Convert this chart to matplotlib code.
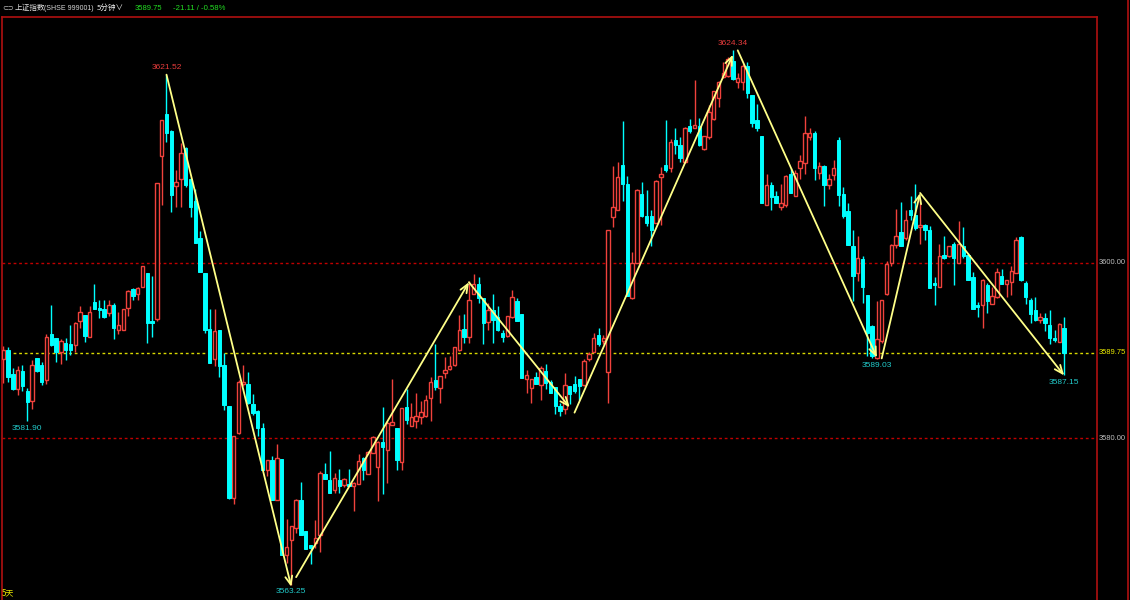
import numpy as np
import matplotlib
matplotlib.use('Agg')
import matplotlib.pyplot as plt
from matplotlib.lines import Line2D
from matplotlib import font_manager

# 5-minute bars
opens = [3589.0, 3590.1, 3587.3, 3585.6, 3587.7, 3585.4, 3584.2, 3589.1, 3588.3, 3586.6,
         3591.9, 3591.4, 3589.8, 3590.9, 3590.8, 3590.6, 3593.4, 3594.1, 3591.6, 3595.5,
         3594.9, 3594.8, 3594.3, 3595.2, 3592.3, 3592.4, 3594.9, 3597.0, 3596.5, 3597.2,
         3598.8, 3593.4, 3593.6, 3612.2, 3617.0, 3615.1, 3608.8, 3609.6, 3613.1, 3609.6,
         3607.1, 3602.9, 3598.8, 3592.5, 3589.0, 3592.3, 3588.3, 3583.7, 3573.1, 3580.6,
         3586.2, 3586.2, 3583.9, 3583.1, 3581.2, 3576.3, 3577.5, 3572.9, 3577.6, 3566.6,
         3568.4, 3569.7, 3572.9, 3569.4, 3567.8, 3568.0, 3568.9, 3575.9, 3575.2, 3574.1,
         3575.2, 3574.6, 3574.8, 3574.5, 3574.7, 3577.7, 3575.9, 3578.3, 3576.7, 3579.5,
         3578.6, 3581.5, 3581.1, 3577.3, 3583.5, 3581.4, 3582.0, 3582.4, 3582.5, 3584.6,
         3586.6, 3585.7, 3587.4, 3587.9, 3588.3, 3590.1, 3592.5, 3591.5, 3596.5, 3597.6,
         3596.0, 3593.3, 3594.6, 3593.8, 3592.0, 3591.7, 3593.8, 3595.6, 3594.2, 3586.7,
         3585.7, 3587.0, 3586.1, 3587.7, 3586.4, 3585.8, 3583.7, 3583.3, 3585.9, 3586.2,
         3586.7, 3586.1, 3589.0, 3589.8, 3591.8, 3591.1, 3587.5, 3605.3, 3606.0, 3611.2,
         3609.0, 3596.0, 3600.0, 3607.9, 3605.4, 3605.4, 3604.6, 3609.8, 3611.2, 3610.8,
         3614.1, 3613.5, 3611.5, 3615.7, 3615.4, 3615.7, 3613.0, 3614.4, 3616.4, 3618.8,
         3621.3, 3621.4, 3623.1, 3620.7, 3620.7, 3622.5, 3619.2, 3616.3, 3614.5, 3606.6,
         3608.9, 3607.7, 3606.4, 3606.6, 3610.2, 3607.7, 3610.8, 3611.4, 3614.4, 3614.8,
         3610.3, 3611.1, 3608.9, 3610.1, 3614.1, 3607.9, 3605.9, 3601.9, 3598.9, 3600.5,
         3596.3, 3592.8, 3589.1, 3591.1, 3596.5, 3600.0, 3602.1, 3603.5, 3602.8, 3606.0,
         3605.5, 3604.1, 3604.3, 3603.8, 3597.7, 3597.3, 3600.9, 3600.8, 3602.2, 3600.0,
         3601.9, 3600.9, 3598.4, 3595.2, 3595.2, 3597.5, 3595.3, 3596.1, 3598.5, 3597.6,
         3597.8, 3598.9, 3603.0, 3597.7, 3595.8, 3594.6, 3593.5, 3593.7, 3592.9, 3591.4,
         3591.0, 3592.6]
highs = [3590.5, 3590.4, 3588.0, 3588.2, 3588.3, 3585.7, 3588.9, 3589.1, 3588.7, 3591.9,
         3595.2, 3591.4, 3591.3, 3591.4, 3592.9, 3593.3, 3595.1, 3594.1, 3595.1, 3597.6,
         3595.8, 3595.8, 3595.8, 3595.4, 3594.4, 3594.8, 3596.9, 3597.1, 3597.3, 3599.7,
         3598.9, 3598.5, 3609.1, 3616.3, 3621.52, 3615.2, 3610.6, 3613.7, 3613.2, 3609.7,
         3608.5, 3603.7, 3598.8, 3594.7, 3594.7, 3592.4, 3589.7, 3583.7, 3580.2, 3586.6,
         3588.3, 3587.6, 3585.0, 3583.2, 3581.7, 3577.5, 3577.9, 3579.3, 3577.6, 3570.8,
         3569.9, 3573.0, 3575.0, 3569.4, 3567.8, 3570.6, 3576.2, 3577.1, 3578.5, 3576.0,
         3576.5, 3575.4, 3576.5, 3575.0, 3578.2, 3577.8, 3578.5, 3580.2, 3579.7, 3583.6,
         3581.9, 3586.8, 3581.1, 3583.4, 3585.6, 3584.0, 3585.1, 3584.2, 3584.9, 3587.0,
         3590.8, 3587.1, 3589.3, 3589.4, 3590.4, 3594.1, 3594.2, 3597.9, 3598.7, 3598.4,
         3596.0, 3595.4, 3596.5, 3595.1, 3592.3, 3593.9, 3596.9, 3596.0, 3594.2, 3587.8,
         3586.8, 3587.5, 3588.2, 3588.5, 3586.6, 3585.8, 3584.0, 3587.4, 3585.9, 3587.1,
         3586.8, 3589.0, 3589.8, 3592.0, 3592.6, 3591.8, 3603.8, 3611.1, 3611.5, 3616.2,
         3609.9, 3601.3, 3608.4, 3609.2, 3608.3, 3606.1, 3609.5, 3611.0, 3616.3, 3614.2,
         3615.4, 3614.4, 3615.5, 3616.5, 3620.9, 3616.6, 3614.5, 3618.1, 3619.7, 3620.8,
         3623.0, 3623.5, 3624.34, 3621.7, 3622.7, 3623.0, 3619.2, 3618.2, 3614.5, 3610.2,
         3609.3, 3608.2, 3609.0, 3610.1, 3610.8, 3610.6, 3612.3, 3616.8, 3615.4, 3615.1,
         3611.5, 3611.2, 3610.2, 3611.8, 3614.4, 3608.7, 3606.8, 3603.8, 3603.1, 3600.8,
         3596.3, 3592.9, 3595.6, 3595.8, 3600.2, 3602.2, 3606.2, 3607.0, 3606.0, 3607.7,
         3609.0, 3607.3, 3604.5, 3604.2, 3598.4, 3602.2, 3603.1, 3601.9, 3602.4, 3604.8,
         3604.1, 3601.1, 3599.0, 3595.5, 3598.2, 3597.7, 3597.3, 3599.4, 3599.3, 3598.1,
         3599.7, 3603.0, 3603.1, 3597.9, 3596.0, 3596.1, 3594.3, 3594.3, 3594.6, 3592.4,
         3593.1, 3593.8]
lows = [3586.3, 3586.4, 3585.5, 3584.9, 3585.4, 3581.9, 3583.3, 3587.6, 3586.1, 3586.2,
        3590.5, 3588.7, 3588.5, 3588.9, 3589.5, 3589.8, 3592.6, 3591.0, 3591.6, 3594.7,
        3593.7, 3593.7, 3593.9, 3591.3, 3591.9, 3592.4, 3594.0, 3595.8, 3595.8, 3597.2,
        3590.9, 3591.6, 3593.4, 3606.6, 3613.8, 3605.8, 3606.4, 3606.4, 3608.7, 3605.2,
        3602.3, 3599.0, 3592.0, 3588.6, 3588.2, 3587.0, 3583.2, 3573.0, 3572.5, 3580.5,
        3585.9, 3583.9, 3582.6, 3580.2, 3576.3, 3575.7, 3572.9, 3572.9, 3566.6, 3565.7,
        3563.25, 3569.1, 3568.9, 3567.3, 3565.6, 3567.4, 3567.0, 3575.3, 3573.7, 3573.7,
        3573.7, 3574.4, 3574.5, 3571.7, 3574.7, 3575.2, 3575.9, 3578.3, 3572.8, 3573.6,
        3574.9, 3581.5, 3576.3, 3576.4, 3581.6, 3581.4, 3581.1, 3581.6, 3582.4, 3581.9,
        3585.5, 3584.0, 3586.9, 3587.8, 3588.2, 3590.0, 3590.9, 3590.9, 3596.5, 3595.4,
        3590.7, 3592.4, 3590.9, 3592.2, 3591.0, 3591.6, 3593.7, 3593.4, 3586.9, 3585.1,
        3584.0, 3586.2, 3584.4, 3585.6, 3585.2, 3582.7, 3582.5, 3582.7, 3583.9, 3585.2,
        3584.3, 3585.9, 3588.8, 3589.8, 3590.5, 3590.8, 3584.0, 3604.1, 3606.0, 3607.1,
        3596.2, 3595.9, 3600.0, 3605.2, 3604.2, 3601.9, 3604.6, 3604.3, 3610.4, 3610.4,
        3612.5, 3611.5, 3611.4, 3614.8, 3615.4, 3613.4, 3612.9, 3614.2, 3616.3, 3617.8,
        3621.1, 3621.2, 3620.9, 3620.0, 3619.8, 3618.8, 3615.5, 3615.1, 3606.9, 3606.6,
        3606.0, 3606.9, 3606.0, 3606.4, 3608.0, 3607.6, 3609.6, 3610.2, 3614.1, 3609.5,
        3609.6, 3606.5, 3608.5, 3609.5, 3606.5, 3605.1, 3602.1, 3595.7, 3597.9, 3595.4,
        3589.4, 3589.1, 3589.03, 3590.9, 3596.3, 3599.6, 3601.7, 3601.9, 3602.6, 3604.9,
        3603.8, 3602.2, 3602.6, 3597.1, 3595.2, 3597.3, 3600.5, 3600.7, 3597.5, 3600.0,
        3600.6, 3598.1, 3594.8, 3593.8, 3592.6, 3594.3, 3595.3, 3596.0, 3597.6, 3596.1,
        3596.3, 3598.8, 3597.9, 3595.3, 3593.1, 3593.4, 3593.2, 3592.2, 3590.7, 3591.0,
        3591.0, 3587.15]
closes = [3590.1, 3587.0, 3585.6, 3587.8, 3585.9, 3584.1, 3588.3, 3587.7, 3586.4, 3591.5,
          3590.6, 3589.8, 3591.1, 3590.1, 3590.1, 3593.2, 3594.4, 3591.7, 3594.4, 3594.8,
          3594.6, 3593.8, 3595.2, 3592.6, 3592.9, 3594.7, 3596.8, 3596.2, 3597.1, 3599.6,
          3593.1, 3593.2, 3609.1, 3616.3, 3614.9, 3607.8, 3609.3, 3612.6, 3608.9, 3606.4,
          3602.3, 3599.0, 3592.3, 3588.6, 3592.2, 3588.2, 3583.8, 3573.2, 3580.2, 3586.4,
          3586.4, 3584.0, 3582.9, 3581.2, 3576.3, 3577.5, 3572.9, 3577.7, 3566.6, 3567.6,
          3569.9, 3572.9, 3568.9, 3567.3, 3567.4, 3568.6, 3576.0, 3575.3, 3573.7, 3575.4,
          3574.5, 3575.3, 3574.5, 3574.9, 3577.4, 3576.4, 3578.4, 3580.1, 3579.6, 3579.0,
          3581.7, 3581.8, 3577.5, 3583.4, 3582.1, 3582.4, 3582.5, 3583.0, 3584.3, 3586.4,
          3585.8, 3587.1, 3587.8, 3588.2, 3590.4, 3592.4, 3591.6, 3595.8, 3597.6, 3596.0,
          3593.2, 3594.6, 3593.5, 3592.3, 3591.5, 3593.9, 3596.1, 3593.4, 3586.9, 3587.2,
          3586.8, 3586.2, 3588.0, 3586.3, 3585.2, 3583.7, 3583.1, 3586.1, 3585.0, 3585.4,
          3585.9, 3588.8, 3589.6, 3591.4, 3590.7, 3591.4, 3603.8, 3606.4, 3609.8, 3609.0,
          3596.2, 3600.0, 3608.3, 3605.4, 3604.6, 3603.8, 3609.4, 3610.2, 3610.6, 3613.8,
          3613.5, 3612.0, 3615.4, 3615.1, 3615.8, 3613.5, 3614.5, 3617.3, 3619.6, 3620.7,
          3621.7, 3623.3, 3621.0, 3621.1, 3622.5, 3619.4, 3616.0, 3615.4, 3606.9, 3608.9,
          3607.5, 3606.9, 3606.9, 3609.9, 3608.0, 3610.3, 3611.6, 3614.8, 3614.8, 3610.8,
          3611.1, 3608.9, 3609.6, 3610.9, 3607.8, 3605.4, 3602.1, 3598.5, 3600.6, 3597.2,
          3592.0, 3589.4, 3591.3, 3595.8, 3599.9, 3602.1, 3603.1, 3601.9, 3604.9, 3605.5,
          3604.0, 3604.3, 3603.8, 3597.1, 3597.5, 3600.8, 3600.6, 3601.9, 3600.6, 3602.2,
          3600.8, 3598.1, 3594.8, 3595.0, 3598.1, 3595.6, 3596.2, 3599.0, 3597.6, 3598.0,
          3599.1, 3602.6, 3598.1, 3596.1, 3594.2, 3593.5, 3593.8, 3593.1, 3591.4, 3591.2,
          3593.0, 3589.75]

# zigzag legs (bar index, price)
zz_from_bar = [34, 61, 97, 119, 153, 183, 191]
zz_from_px = [3621.52, 3564.1, 3597.8, 3582.9, 3624.3, 3589.1, 3608.0]
zz_to_bar = [60, 97, 118, 152, 182, 191, 221]
zz_to_px = [3563.0, 3597.8, 3583.5, 3623.8, 3589.2, 3608.0, 3587.15]

# marked highs / lows
mark_bar = [34, 152, 5, 60, 182, 221]
mark_px = [3621.52, 3624.34, 3581.90, 3563.25, 3589.03, 3587.15]
mark_high = [True, True, False, False, False, False]

grid_levels = [3600.00, 3580.00]
last_price = 3589.75

RED = '#f0423c'
CYAN = '#00ffff'
BORDER = '#b01010'
YEL = '#ffff88'

# narrow font if there is one, else Liberation Sans a bit smaller
installed = {f.name for f in font_manager.fontManager.ttflist}
narrow = [n for n in ['Liberation Sans Narrow', 'DejaVu Sans Condensed', 'Arial Narrow']
          if n in installed]
if narrow:
    NUMFONT = [narrow[0], 'DejaVu Sans']
    k = 1.25
else:
    NUMFONT = ['Liberation Sans', 'DejaVu Sans']
    k = 1.0
CJKFONT = ['Noto Sans CJK SC', 'DejaVu Sans']

o = np.array(opens); h = np.array(highs); l = np.array(lows); c = np.array(closes)
x = np.arange(len(c))
up = c >= o

W, H = 1130, 600
fig = plt.figure(figsize=(W / 100, H / 100), dpi=100, facecolor='black')
ax = fig.add_axes([2 / W, 0, (1097 - 2) / W, (H - 17) / H])
ax.set_facecolor('black')

ax.set_xlim(-0.27, 227.85)
ax.set_ylim(3561.49, 3628.11)

for lv in grid_levels:
    ax.axhline(lv, color='#c00000', lw=1, ls=(0, (2, 2)), zorder=1)
ax.axhline(last_price, color='#d8d800', lw=1, ls=(0, (2, 2)), zorder=1)

ax.vlines(x[up], l[up], h[up], color=RED, lw=1, zorder=2)
ax.vlines(x[~up], l[~up], h[~up], color=CYAN, lw=1, zorder=2)
body_lo = np.minimum(o, c)
body_h = np.maximum(np.abs(c - o), 0.06)
ax.bar(x[up], body_h[up], bottom=body_lo[up], width=0.7, facecolor='black',
       edgecolor=RED, lw=1.0, zorder=3)
ax.bar(x[~up], body_h[~up], bottom=body_lo[~up], width=0.7, facecolor=CYAN,
       edgecolor=CYAN, lw=0.7, zorder=3)

# zigzag arrows
for b0, p0, b1, p1 in zip(zz_from_bar, zz_from_px, zz_to_bar, zz_to_px):
    ax.annotate('', xy=(b1, p1), xytext=(b0, p0),
                arrowprops=dict(arrowstyle='->,head_length=0.6,head_width=0.25',
                                color=YEL, lw=1.3, shrinkA=0, shrinkB=0),
                zorder=5)

for b, p, hi in zip(mark_bar, mark_px, mark_high):
    ax.annotate('%.2f' % p, xy=(b, p), xytext=(0, 2.5 if hi else -2.5),
                textcoords='offset points', ha='center',
                va='bottom' if hi else 'top', fontsize=6.0 * k, family=NUMFONT,
                color='#e83c3c' if hi else '#22cccc', zorder=6)

# price scale on the right
ytr = ax.get_yaxis_transform()
for lv in grid_levels:
    ax.text(1.002, lv, '%.2f' % lv, transform=ytr, ha='left', va='center',
            fontsize=5.4 * k, family=NUMFONT, color='#c0c0c0', clip_on=False)
ax.text(1.002, last_price, '%.2f' % last_price, transform=ytr, ha='left',
        va='center', fontsize=5.4 * k, family=NUMFONT, color='#f0f000', clip_on=False)

ax.set_xticks([]); ax.set_yticks([])
for s in ['left', 'top', 'right']:
    ax.spines[s].set_color(BORDER)
    ax.spines[s].set_linewidth(1.2)
ax.spines['bottom'].set_visible(False)
fig.add_artist(Line2D([1128 / W, 1128 / W], [0, 1], transform=fig.transFigure,
                      color=BORDER, lw=1.2))

# header line
ty = 1 - 8 / H
fig.text(2 / W, ty, '⊂⊃', fontsize=5, color='#c0c0c0', va='center', family=['DejaVu Sans'])
fig.text(15 / W, ty, '上证指数', fontsize=5.5, color='#e0e0e0', va='center', family=CJKFONT)
fig.text(44 / W, ty, '(SHSE 999001)', fontsize=5.0 * k, color='#d8d8d8', va='center', family=NUMFONT)
fig.text(97 / W, ty, '5分钟∨', fontsize=5.5, color='#f0f0f0', va='center', family=CJKFONT)
fig.text(135 / W, ty, '3589.75', fontsize=5.5 * k, color='#22dd22', va='center', family=NUMFONT)
fig.text(173 / W, ty, '-21.11 / -0.58%', fontsize=5.6 * k, color='#22dd22', va='center', family=NUMFONT)

fig.text(2 / W, 1 - 593 / H, '5天', fontsize=5.8, color='#e8e800', va='center', family=CJKFONT)

fig.savefig('out.png', dpi=100, facecolor='black')
